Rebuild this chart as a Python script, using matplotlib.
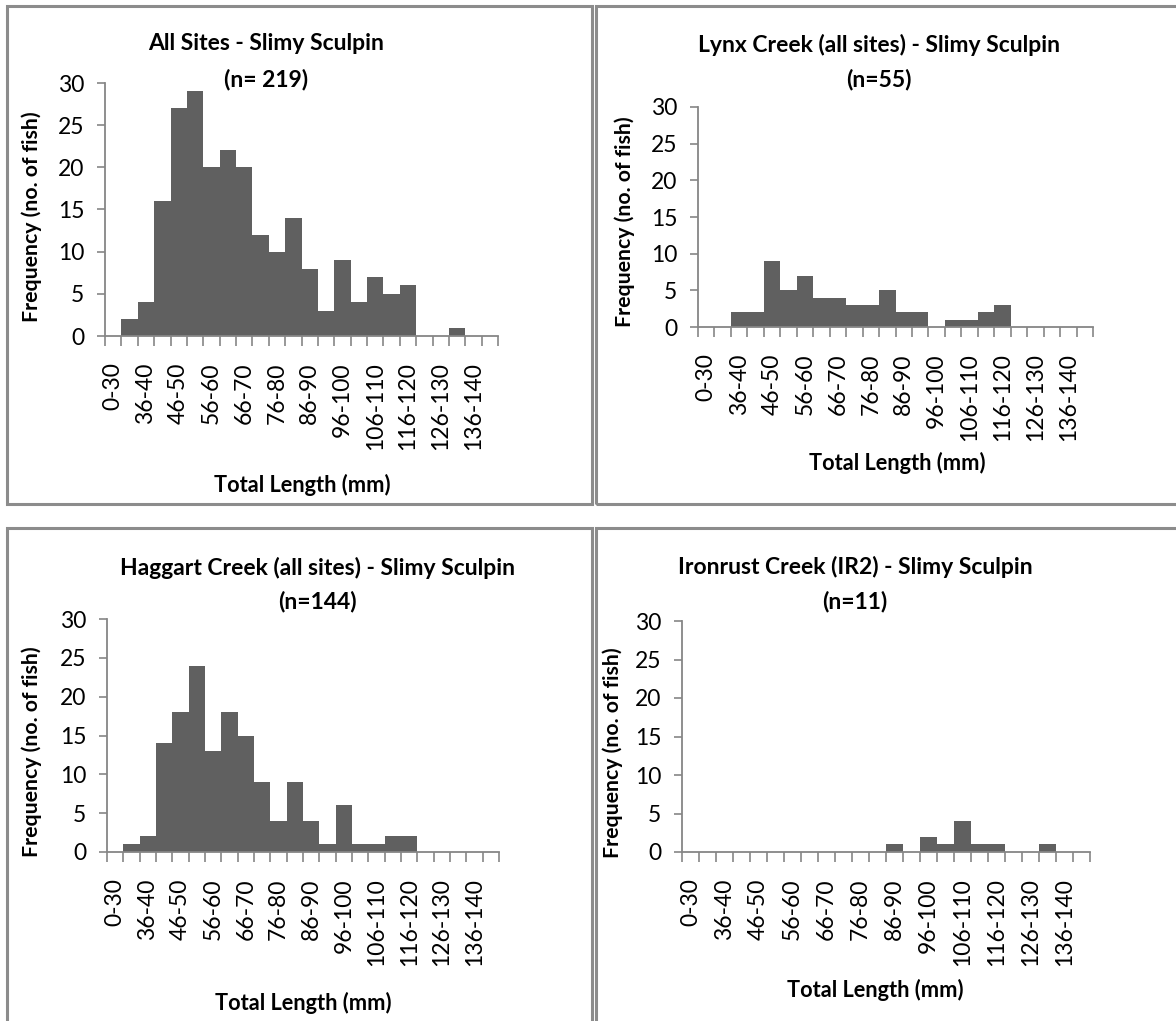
import matplotlib
matplotlib.use("Agg")
import matplotlib.pyplot as plt
from matplotlib.patches import Rectangle

# Length classes (mm) shared by every histogram
length_classes = ["0-30", "31-35", "36-40", "41-45", "46-50", "51-55", "56-60",
                  "61-65", "66-70", "71-75", "76-80", "81-85", "86-90", "91-95",
                  "96-100", "101-105", "106-110", "111-115", "116-120", "121-125",
                  "126-130", "131-135", "136-140", "141-145"]

# Frequency (number of fish) per length class
all_sites = [0, 2, 4, 16, 27, 29, 20, 22, 20, 12, 10, 14, 8, 3, 9, 4, 7, 5, 6, 0, 0, 1, 0, 0]
lynx_creek = [0, 0, 2, 2, 9, 5, 7, 4, 4, 3, 3, 5, 2, 2, 0, 1, 1, 2, 3, 0, 0, 0, 0, 0]
haggart_creek = [0, 1, 2, 14, 18, 24, 13, 18, 15, 9, 4, 9, 4, 1, 6, 1, 1, 2, 2, 0, 0, 0, 0, 0]
ironrust_creek = [0, 0, 0, 0, 0, 0, 0, 0, 0, 0, 0, 0, 1, 0, 2, 1, 4, 1, 1, 0, 0, 1, 0, 0]

titles = ["All Sites - Slimy Sculpin\n(n= 219)",
          "Lynx Creek (all sites) - Slimy Sculpin\n(n=55)",
          "Haggart Creek (all sites) - Slimy Sculpin\n(n=144)",
          "Ironrust Creek (IR2) - Slimy Sculpin\n(n=11)"]

yticks = [0, 5, 10, 15, 20, 25, 30]

W, H = 1176, 1021
fig = plt.figure(figsize=(W / 100, H / 100), dpi=100)
fig.patch.set_facecolor("white")

FONT = "Lato"
BAR = "#606060"
AXC = "#868686"
BORDER = "#8c8c8c"
TICK_FS = 16.5
TITLE_FS = 16.5


def fx(x):
    return x / W


def fy(y):
    return 1 - y / H


# Panel frames (pixel boxes: left, top, right, bottom)
frames = [(7, 6, 592, 504), (596, 6, 1190, 504),
          (7, 528, 592, 1040), (596, 528, 1190, 1040)]
for l, t, r, b in frames:
    fig.patches.append(Rectangle((fx(l), fy(b)), fx(r - l), (b - t) / H,
                                 transform=fig.transFigure, fill=False,
                                 edgecolor=BORDER, linewidth=2.2, zorder=0))

# Plot areas (pixel boxes: x0, x1, top, zero line)
areas = [(105, 498, 83, 336), (698, 1093, 107, 327),
         (107, 499, 619, 852), (682, 1090, 621, 852)]

# Text placements (pixel centres)
title_pos = [((266, 43), (266, 80)), ((879, 45), (879, 80)),
             ((317, 568), (317, 602)), ((855, 567), (855, 602))]
ylabel_pos = [(32, 217), (625, 222), (32, 752), (613, 753)]
xlabel_pos = [(302, 485), (897, 463), (303, 1003), (875, 990)]

series = [all_sites, lynx_creek, haggart_creek, ironrust_creek]
idx = list(range(len(length_classes)))

for k, values in enumerate(series):
    x0, x1, top, zero = areas[k]
    ax = fig.add_axes([fx(x0), fy(zero), fx(x1 - x0), (zero - top) / H])
    ax.bar(idx, values, width=1.0, color=BAR, edgecolor="none", zorder=2)
    ax.set_xlim(-0.5, len(length_classes) - 0.5)
    ax.set_ylim(0, 30)
    for s in ["top", "right"]:
        ax.spines[s].set_visible(False)
    for s in ["left", "bottom"]:
        ax.spines[s].set_color(AXC)
        ax.spines[s].set_linewidth(1.3)
    ax.set_yticks(yticks)
    ax.set_yticklabels([str(v) for v in yticks], fontsize=TICK_FS, family=FONT)
    ax.tick_params(axis="y", direction="out", length=6, width=1.2, color=AXC, pad=9)
    # boundaries between classes carry the tick marks
    ax.set_xticks([i - 0.5 for i in range(len(length_classes) + 1)])
    ax.set_xticklabels([])
    ax.tick_params(axis="x", which="major", direction="out", length=7, width=1.2, color=AXC)
    # every second class is labelled at its centre
    lab_idx = idx[::2]
    ax.set_xticks(lab_idx, minor=True)
    ax.set_xticklabels([length_classes[i] for i in lab_idx], minor=True,
                       rotation=90, fontsize=TICK_FS, family=FONT)
    ax.tick_params(axis="x", which="minor", length=0, pad=19)
    ax.set_facecolor("none")

    (t1x, t1y), (t2x, t2y) = title_pos[k]
    l1, l2 = titles[k].split("\n")
    fig.text(fx(t1x), fy(t1y), l1, ha="center", va="center", fontsize=TITLE_FS,
             fontweight="bold", family=FONT)
    fig.text(fx(t2x), fy(t2y), l2, ha="center", va="center", fontsize=TITLE_FS,
             fontweight="bold", family=FONT)
    yx, yy = ylabel_pos[k]
    fig.text(fx(yx), fy(yy), "Frequency (no. of fish)", ha="center", va="center",
             rotation=90, fontsize=15.3, fontweight="bold", family=FONT)
    xx, xy = xlabel_pos[k]
    fig.text(fx(xx), fy(xy), "Total Length (mm)", ha="center", va="center",
             fontsize=15.7, fontweight="bold", family=FONT)

fig.savefig("out.png", dpi=100, facecolor="white")
